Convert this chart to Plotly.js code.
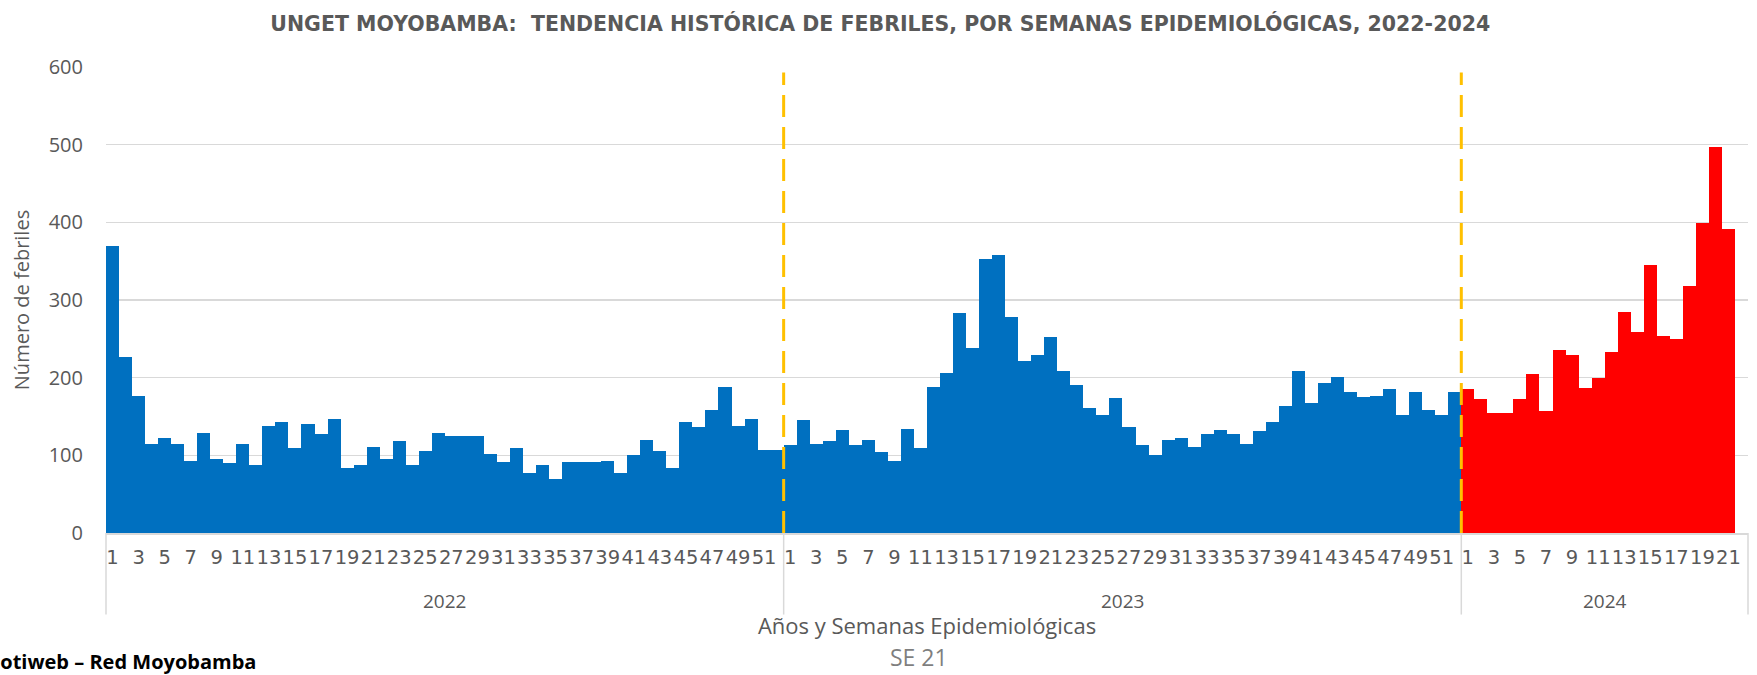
<!DOCTYPE html>
<html>
<head>
<meta charset="utf-8">
<script src="https://cdn.plot.ly/plotly-3.0.1.min.js"></script>
<style>html,body{margin:0;padding:0;background:#ffffff;}</style>
</head>
<body>
<div id="chart" style="width:1757px;height:675px;"></div>
<script>
// ---- Data ----
const years = ['2022', '2023', '2024'];
const weeks2022 = [1,2,3,4,5,6,7,8,9,10,11,12,13,14,15,16,17,18,19,20,21,22,23,24,25,26,27,28,29,30,31,32,33,34,35,36,37,38,39,40,41,42,43,44,45,46,47,48,49,50,51,52];
const weeks2023 = [1,2,3,4,5,6,7,8,9,10,11,12,13,14,15,16,17,18,19,20,21,22,23,24,25,26,27,28,29,30,31,32,33,34,35,36,37,38,39,40,41,42,43,44,45,46,47,48,49,50,51,52];
const weeks2024 = [1,2,3,4,5,6,7,8,9,10,11,12,13,14,15,16,17,18,19,20,21,22];
const cases2022 = [369,227,177,115,122,115,93,129,95,90,115,88,138,143,109,140,127,147,84,88,111,95,118,88,106,129,125,125,125,102,91,109,77,88,70,91,91,91,93,77,100,120,106,84,143,136,159,188,138,147,107,107];
const cases2023 = [113,145,115,118,132,113,120,104,93,134,109,188,206,283,238,353,358,278,222,229,252,208,190,161,152,174,136,113,100,120,122,111,127,133,127,115,131,143,163,208,168,193,201,181,175,177,186,152,181,159,152,181];
const cases2024 = [186,172,154,154,172,205,157,236,229,187,199,233,285,259,345,254,250,318,399,497,392];

const titleText = 'UNGET MOYOBAMBA:  TENDENCIA HISTÓRICA DE FEBRILES, POR SEMANAS EPIDEMIOLÓGICAS, 2022-2024';
const yTitle = 'Número de febriles';
const xTitle = 'Años y Semanas Epidemiológicas';
const subNote = 'SE 21';
const sourceNote = 'Notiweb – Red Moyobamba';

// ---- Categories ----
const weekSets = [weeks2022, weeks2023, weeks2024];
const catKey = (y, w) => y + '-' + w;
const allCats = [];
const tickVals = [];
const tickText = [];
weekSets.forEach((ws, i) => {
  ws.forEach(w => {
    allCats.push(catKey(years[i], w));
    if (w % 2 === 1) { tickVals.push(catKey(years[i], w)); tickText.push(String(w)); }
  });
});
const blueX = weeks2022.map(w => catKey(years[0], w)).concat(weeks2023.map(w => catKey(years[1], w)));
const blueY = cases2022.concat(cases2023);
const redX = cases2024.map((v, i) => catKey(years[2], weeks2024[i]));
const redY = cases2024;

const nTotal = allCats.length;
const n1 = weeks2022.length, n2 = weeks2023.length, n3 = weeks2024.length;
const groupCenters = [(n1 - 1) / 2, n1 + (n2 - 1) / 2, n1 + n2 + (n3 - 1) / 2];
const boundaries = [n1 - 0.5, n1 + n2 - 0.5];

const FONT = 'Open Sans, DejaVu Sans, sans-serif';
const WIDE = 'DejaVu Sans, Open Sans, sans-serif';
const GREY = '#595959';

const traces = [
  { type: 'bar', x: blueX, y: blueY, marker: { color: '#0070C0', line: { width: 0 } }, hoverinfo: 'x+y', showlegend: false },
  { type: 'bar', x: redX, y: redY, marker: { color: '#FF0000', line: { width: 0 } }, hoverinfo: 'x+y', showlegend: false }
];

const shapes = [];
// group dividers below the axis
[0, n1 / nTotal, (n1 + n2) / nTotal, 1].forEach(px => {
  shapes.push({ type: 'line', xref: 'paper', yref: 'paper', x0: px, x1: px, y0: 0, y1: -0.175,
    line: { color: '#d9d9d9', width: 1.5 }, layer: 'below' });
});
// dashed year separators
boundaries.forEach(b => {
  shapes.push({ type: 'line', xref: 'x', yref: 'y', x0: b, x1: b, y0: 0, y1: 593,
    line: { color: '#FFC000', width: 3, dash: '22px,10px' } });
});

const annotations = years.map((yr, i) => ({
  text: yr, xref: 'x', yref: 'paper', x: groupCenters[i], y: -0.145,
  xanchor: 'center', yanchor: 'middle', showarrow: false,
  font: { family: FONT, size: 19, color: GREY }
}));
annotations.push({
  text: subNote, xref: 'paper', yref: 'paper', x: 0.4951, y: -0.266,
  xanchor: 'center', yanchor: 'middle', showarrow: false,
  font: { family: FONT, size: 23, color: '#7f7f7f' }
});
annotations.push({
  text: '<b>' + sourceNote + '</b>', xref: 'paper', yref: 'paper', x: -0.0757, y: -0.2757,
  xanchor: 'left', yanchor: 'middle', showarrow: false,
  font: { family: FONT, size: 20, color: '#000000' }
});

const layout = {
  width: 1757, height: 675,
  margin: { l: 106, r: 9, t: 67, b: 142 },
  paper_bgcolor: '#ffffff', plot_bgcolor: '#ffffff',
  barmode: 'overlay', bargap: 0,
  title: {
    text: '<b>' + titleText + '</b>',
    xref: 'container', yref: 'container', x: 0.501, y: 0.965,
    xanchor: 'center', yanchor: 'middle',
    font: { family: WIDE, size: 20.5, color: GREY }
  },
  xaxis: {
    type: 'category', categoryorder: 'array', categoryarray: allCats,
    range: [-0.5, nTotal - 0.5],
    tickmode: 'array', tickvals: tickVals, ticktext: tickText,
    tickangle: 0, ticks: '', ticklabelstandoff: 6,
    tickfont: { family: WIDE, size: 19.5, color: GREY },
    showgrid: false, showline: true, linecolor: '#d9d9d9', linewidth: 1.5,
    zeroline: false, fixedrange: true,
    title: { text: xTitle, standoff: 50, font: { family: FONT, size: 22, color: GREY } }
  },
  yaxis: {
    range: [0, 600], dtick: 100, tick0: 0,
    ticks: '', ticklabelstandoff: 22,
    tickfont: { family: FONT, size: 20, color: GREY },
    showgrid: true, gridcolor: '#d9d9d9', gridwidth: 1.5,
    zeroline: false, showline: false, fixedrange: true,
    title: { text: yTitle, standoff: 13, font: { family: FONT, size: 20, color: GREY } }
  },
  shapes: shapes,
  annotations: annotations,
  font: { family: FONT, color: GREY }
};

Plotly.newPlot('chart', traces, layout, { displayModeBar: false, staticPlot: true });
</script>
</body>
</html>
